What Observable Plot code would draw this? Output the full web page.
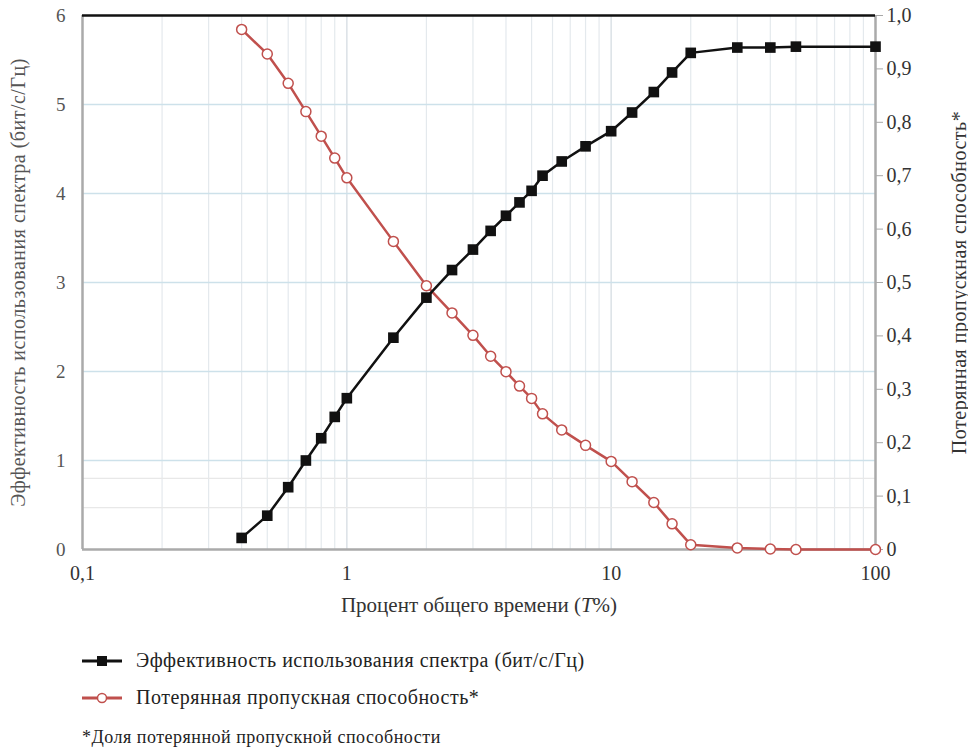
<!DOCTYPE html>
<html>
<head>
<meta charset="utf-8">
<script src="https://cdn.jsdelivr.net/npm/d3@7"></script>
<script src="https://cdn.jsdelivr.net/npm/@observablehq/plot@0.6"></script>
<style>
  html, body, div, span, svg, g, text, tspan { font-family: "Liberation Serif", serif; }
</style>
</head>
<body style="margin:0;background:#fff">
<div id="wrap" style="position:relative;width:968px;height:751px">
  <div id="chart"></div>
  <div style="position:absolute;left:82px;top:649px;display:flex;align-items:center;font-size:20px;letter-spacing:0.5px;color:#222">
    <svg width="40" height="20" style="margin-right:14px"><line x1="0" y1="10" x2="40" y2="10" stroke="#111" stroke-width="3"/><rect x="15" y="5" width="10" height="10" fill="#111"/></svg>
    <span>Эффективность использования спектра (бит/с/Гц)</span>
  </div>
  <div style="position:absolute;left:82px;top:686px;display:flex;align-items:center;font-size:20px;letter-spacing:0.5px;color:#222">
    <svg width="40" height="20" style="margin-right:14px"><line x1="0" y1="10" x2="40" y2="10" stroke="#c0504d" stroke-width="3"/><circle cx="20" cy="10" r="4.5" fill="#fff" stroke="#c0504d" stroke-width="1.5"/></svg>
    <span>Потерянная пропускная способность*</span>
  </div>
  <div style="position:absolute;left:82px;top:727px;font-size:18px;letter-spacing:0.5px;color:#222">*Доля потерянной пропускной способности</div>
</div>
<script>
const timePct = [0.4, 0.5, 0.6, 0.7, 0.8, 0.9, 1, 1.5, 2, 2.5, 3, 3.5, 4, 4.5, 5, 5.5, 6.5, 8, 10, 12, 14.5, 17, 20, 30, 40, 50, 100];
const efficiency = [0.13, 0.38, 0.70, 1.00, 1.25, 1.49, 1.70, 2.38, 2.83, 3.14, 3.37, 3.58, 3.75, 3.90, 4.03, 4.20, 4.36, 4.53, 4.70, 4.91, 5.14, 5.36, 5.58, 5.64, 5.64, 5.65, 5.65];
const lostCapacity = [0.974, 0.928, 0.873, 0.820, 0.774, 0.733, 0.696, 0.577, 0.494, 0.443, 0.401, 0.362, 0.333, 0.306, 0.283, 0.254, 0.224, 0.195, 0.165, 0.127, 0.088, 0.048, 0.009, 0.003, 0.001, 0, 0];
const xTicks = [0.1, 1, 10, 100];
const leftTicks = [0, 1, 2, 3, 4, 5, 6];
const rightTicks = [0, 0.1, 0.2, 0.3, 0.4, 0.5, 0.6, 0.7, 0.8, 0.9, 1.0];
const xLabel = "Процент общего времени (T%)";
const leftLabel = "Эффективность использования спектра (бит/с/Гц)";
const rightLabel = "Потерянная пропускная способность*";

const RATIO = 6; // right axis 0–1 mapped onto left axis 0–6
const effData = timePct.map((t, i) => ({t, v: efficiency[i]}));
const lostData = timePct.map((t, i) => ({t, v: lostCapacity[i] * RATIO}));
const minorX = [];
for (const d of [0.1, 1, 10]) for (let k = 2; k <= 9; k++) minorX.push(+(d * k).toFixed(3));

const comma = d => d === 0 ? "0" : String(+d.toFixed(2)).replace(".", ",");
const commaR = d => { const v = d / RATIO; return v < 1e-9 ? "0" : v.toFixed(1).replace(".", ","); };
const FONT = "Liberation Serif";

const chart = Plot.plot({
  width: 968, height: 625,
  marginLeft: 82, marginRight: 93, marginTop: 15, marginBottom: 76,
  style: {fontFamily: FONT, fontSize: "19px", background: "white", color: "#222", overflow: "visible"},
  x: {type: "log", domain: [0.1, 100]},
  y: {domain: [0, 6]},
  marks: [
    Plot.ruleX(minorX, {stroke: "#e4e9ed", strokeWidth: 1.2}),
    Plot.ruleX([1, 10], {stroke: "#dde3e8", strokeWidth: 1.6}),
    Plot.ruleY([0.47, 0.8], {stroke: "#e8e8e8", strokeWidth: 1.2}),
    Plot.ruleY(leftTicks.filter(d => d > 0 && d < 6), {stroke: "#cde1ea", strokeWidth: 1.6}),
    Plot.axisX({ticks: xTicks, tickFormat: comma, tickSize: 0, tickPadding: 16, fill: "#333", fontSize: 20,
      label: xLabel, labelAnchor: "center", labelArrow: "none", labelOffset: 62}),
    Plot.axisY({anchor: "left", ticks: leftTicks, tickFormat: comma, tickSize: 0, tickPadding: 17, fill: "#555", fontSize: 19,
      label: leftLabel, labelAnchor: "center", labelArrow: "none", labelOffset: 72}),
    Plot.axisY({anchor: "right", ticks: rightTicks.map(d => d * RATIO), tickFormat: commaR, tickSize: 7, tickPadding: 4,
      stroke: "#a8a8a8", fill: "#333", fontSize: 20,
      label: rightLabel, labelAnchor: "center", labelArrow: "none", labelOffset: 90}),
    Plot.ruleX([0.1, 100], {stroke: "#aaaaaa", strokeWidth: 2.5}),
    Plot.ruleY([0], {stroke: "#aaaaaa", strokeWidth: 2.5}),
    Plot.ruleY([6], {stroke: "#111", strokeWidth: 2.5}),
    Plot.line(lostData, {x: "t", y: "v", stroke: "#c0504d", strokeWidth: 2.5}),
    Plot.dot(lostData, {x: "t", y: "v", r: 5, fill: "white", stroke: "#c0504d", strokeWidth: 1.5}),
    Plot.line(effData, {x: "t", y: "v", stroke: "#111", strokeWidth: 2.5}),
    Plot.dot(effData, {x: "t", y: "v", symbol: "square", r: 6, fill: "#111", stroke: "none"})
  ]
});
document.getElementById("chart").appendChild(chart);

chart.setAttribute("font-family", FONT);
chart.querySelectorAll("g[font-family]").forEach(g => g.setAttribute("font-family", FONT));

// axis titles: size/spacing, italic T in x-axis label
chart.querySelectorAll("text").forEach(t => {
  const s = t.textContent;
  if (s === leftLabel || s === rightLabel) {
    t.style.fontSize = "20px"; t.style.letterSpacing = "0.5px";
  }
  if (s === xLabel) {
    t.style.fontSize = "21px";
    t.textContent = "";
    const a = document.createElementNS("http://www.w3.org/2000/svg", "tspan"); a.textContent = "Процент общего времени (";
    const b = document.createElementNS("http://www.w3.org/2000/svg", "tspan"); b.textContent = "T"; b.setAttribute("font-style", "italic");
    const c = document.createElementNS("http://www.w3.org/2000/svg", "tspan"); c.textContent = "%)";
    t.append(a, b, c);
  }
});
</script>
</body>
</html>
